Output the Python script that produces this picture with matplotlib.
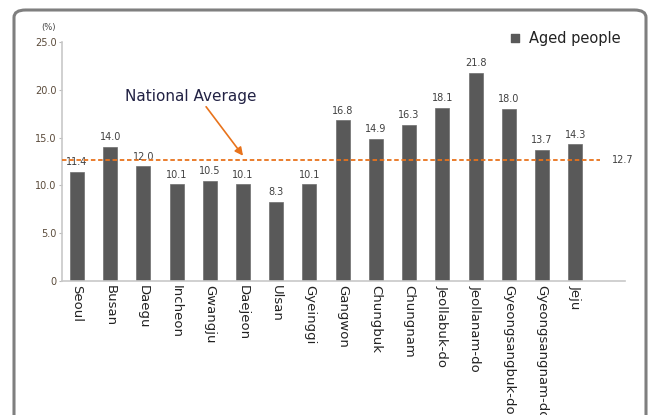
import matplotlib
matplotlib.use("Agg")
import matplotlib.pyplot as plt
from matplotlib.patches import FancyBboxPatch

regions = ["Seoul", "Busan", "Daegu", "Incheon", "Gwangju", "Daejeon", "Ulsan",
           "Gyeinggi", "Gangwon", "Chungbuk", "Chungnam", "Jeollabuk-do",
           "Jeollanam-do", "Gyeongsangbuk-do", "Gyeongsangnam-do", "Jeju"]
aged = [11.4, 14.0, 12.0, 10.1, 10.5, 10.1, 8.3, 10.1, 16.8, 14.9, 16.3,
        18.1, 21.8, 18.0, 13.7, 14.3]
national_avg = 12.7
yticks = [0, 5, 10, 15, 20, 25]
ytick_labels = ["0", "5.0", "10.0", "15.0", "20.0", "25.0"]

W, H = 648, 415
fig = plt.figure(figsize=(W / 100, H / 100), dpi=100)

# rounded frame around the whole chart (bottom runs off the image)
frame = FancyBboxPatch((14 / W, -0.2), (646 - 14) / W, 1.2 - 10 / H,
                       boxstyle="round,pad=0,rounding_size=0.018",
                       transform=fig.transFigure, fill=False,
                       edgecolor="#7f7f7f", linewidth=2.2, clip_on=False)
fig.patches.append(frame)

ax = fig.add_axes([62 / W, 1 - 281 / H, (625 - 62) / W, (281 - 42) / H])
x = list(range(len(regions)))
ax.bar(x, aged, width=0.42, color="#595959", edgecolor="#6e6e6e", linewidth=0.5, zorder=2)

for xi, v in zip(x, aged):
    ax.text(xi, v + 0.5, f"{v:.1f}", ha="center", va="bottom",
            fontsize=7, color="#404040", family="Liberation Sans Narrow")

ax.set_xlim(-0.45, 16.5)
ax.set_ylim(0, 25)
ax.set_yticks(yticks)
ax.set_yticklabels(ytick_labels, fontsize=7, color="#5a4a3a", family="Liberation Sans Narrow")
ax.set_xticks(x)
ax.set_xticklabels(regions, rotation=270, fontsize=9.5, color="#222222",
                   family="Liberation Sans Narrow", va="top", ha="center")
ax.tick_params(axis="x", length=0, pad=3)
ax.tick_params(axis="y", length=2, color="#bbbbbb", pad=2)

for s in ["top", "right"]:
    ax.spines[s].set_visible(False)
ax.spines["left"].set_color("#c8c8c8")
ax.spines["bottom"].set_color("#c8c8c8")
ax.spines["left"].set_linewidth(1.2)
ax.spines["bottom"].set_linewidth(1.2)

# national average line
ax.plot([-0.45, 15.75], [national_avg, national_avg], linestyle=(0, (2.5, 1.5)),
        color="#e8731c", linewidth=1.3, zorder=3, clip_on=False)
ax.text(16.1, national_avg, f"{national_avg}", ha="left", va="center",
        fontsize=7, color="#404040", family="Liberation Sans Narrow")

ax.annotate("National Average", xy=(5.0, 13.1), xytext=(1.45, 19.3),
            fontsize=11, color="#222244", family="Liberation Sans Narrow",
            va="center", ha="left",
            arrowprops=dict(arrowstyle="-|>", color="#e8731c", lw=1.2,
                            mutation_scale=12, shrinkA=0, shrinkB=0,
                            relpos=(0.6, 0.0)))

ax.text(-0.85, 26.5, "(%)", fontsize=6, color="#404040", ha="center", va="center",
        family="Liberation Sans Narrow")

# legend
ax.scatter([13.2], [25.4], marker="s", s=40, color="#595959", clip_on=False)
ax.text(13.6, 25.4, "Aged people", fontsize=10.5, color="#222222", va="center",
        ha="left", family="Liberation Sans Narrow")

fig.savefig("out.png", dpi=100)
